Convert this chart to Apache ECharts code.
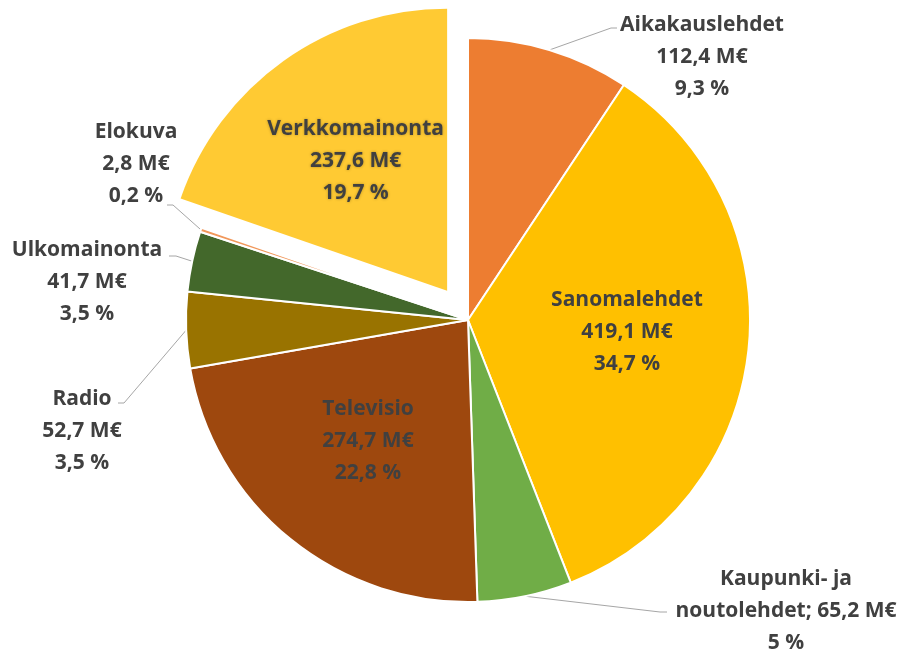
<!DOCTYPE html>
<html>
<head>
<meta charset="utf-8">
<script src="https://cdn.jsdelivr.net/npm/echarts@6/dist/echarts.min.js"></script>
<style>
  html, body { margin: 0; padding: 0; background: #fff; }
  #main { width: 912px; height: 655px; }
</style>
</head>
<body>
<div id="main"></div>
<script>
// mainosmedia, M€ ja osuudet (luettu kuvasta)
var categories = ['Aikakauslehdet', 'Sanomalehdet', 'Kaupunki- ja noutolehdet', 'Televisio',
                  'Radio', 'Ulkomainonta', 'Elokuva', 'Verkkomainonta'];
var valuesMeur = [112.4, 419.1, 65.2, 274.7, 52.7, 41.7, 2.8, 237.6];
var shareLabels = ['9,3', '34,7', '5', '22,8', '3,5', '3,5', '0,2', '19,7'];

var colors = ['#ED7D31', '#FFC000', '#70AD47', '#9E480E', '#997300', '#43682B', '#F1975A', '#FFCA33'];
var insideNames = ['Sanomalehdet', 'Televisio', 'Verkkomainonta'];
var explodedName = 'Verkkomainonta';

// label places (center of the text block) + leader line bend/end
var labelPlace = {
  'Aikakauslehdet': { x: 702, y: 57, line: [[611, 28], [617, 28]] },
  'Sanomalehdet': { x: 627, y: 332 },
  'Kaupunki- ja noutolehdet': { x: 786, y: 611, line: [[660, 612], [667, 612]] },
  'Televisio': { x: 368, y: 441 },
  'Radio': { x: 82, y: 431, line: [[124, 403], [118, 403]] },
  'Ulkomainonta': { x: 87, y: 282, line: [[176, 256], [169, 256]] },
  'Elokuva': { x: 136, y: 164, line: [[173, 205], [167, 205]] }
};

function fmt(v) { return v.toFixed(1).replace('.', ','); }

var chart = echarts.init(document.getElementById('main'));

var data = categories.map(function (name, i) {
  var item = {
    name: name,
    value: valuesMeur[i],
    itemStyle: { color: colors[i] }
  };
  if (insideNames.indexOf(name) >= 0) {
    item.label = { position: 'inside' };
    item.labelLine = { show: false };
  }
  if (name === explodedName) {
    var lbl = { offset: [-8, -12], textShadowColor: 'rgba(0,0,0,0.3)', textShadowBlur: 3 };
    item.selected = true;
    item.itemStyle.borderWidth = 0;
    item.label = Object.assign({ position: 'inside' }, lbl);
    item.select = { itemStyle: { color: colors[i], borderWidth: 0 }, label: lbl };
  }
  return item;
});

var option = {
  backgroundColor: '#ffffff',
  animation: false,
  color: colors,
  series: [{
    type: 'pie',
    center: [468, 320],
    radius: [0, 282],
    startAngle: 90,
    clockwise: true,
    selectedMode: 'single',
    selectedOffset: 36,
    avoidLabelOverlap: false,
    emphasis: { disabled: true, scale: false },
    itemStyle: { borderColor: '#ffffff', borderWidth: 2 },
    label: {
      show: true,
      position: 'outside',
      color: '#404040',
      fontFamily: 'Open Sans',
      fontWeight: 'bold',
      fontSize: 21,
      lineHeight: 32,
      align: 'center',
      formatter: function (p) {
        var i = p.dataIndex;
        if (p.name === 'Kaupunki- ja noutolehdet') {
          return 'Kaupunki- ja\nnoutolehdet; ' + fmt(valuesMeur[i]) + ' M€\n' + shareLabels[i] + ' %';
        }
        return p.name + '\n' + fmt(valuesMeur[i]) + ' M€\n' + shareLabels[i] + ' %';
      }
    },
    labelLine: {
      show: true,
      length: 20,
      length2: 6,
      lineStyle: { color: '#A6A6A6', width: 1 }
    },
    labelLayout: function (p) {
      var pl = labelPlace[categories[p.dataIndex]];
      if (!pl) return {};
      var out = { x: pl.x, y: pl.y, align: 'center', verticalAlign: 'middle' };
      if (pl.line && p.labelLinePoints) {
        out.labelLinePoints = [p.labelLinePoints[0], pl.line[0], pl.line[1]];
      }
      return out;
    },
    data: data
  }]
};

chart.setOption(option);
</script>
</body>
</html>
